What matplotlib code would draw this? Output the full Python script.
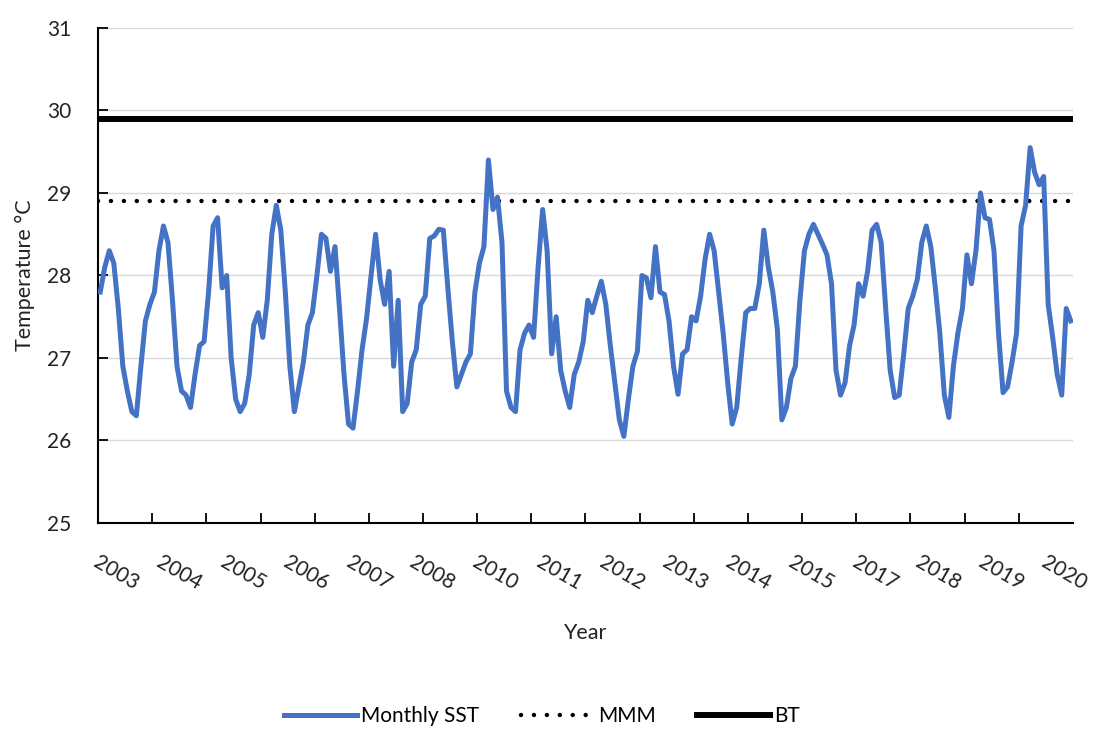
import matplotlib
matplotlib.use("Agg")
import matplotlib.pyplot as plt
from matplotlib.lines import Line2D

plt.rcParams['font.family'] = ['Lato', 'DejaVu Sans']

# monthly sea surface temperature (Jan 2003 - Dec 2020)
sst = [
    27.8, 28.1, 28.3, 28.15, 27.6, 26.9, 26.6, 26.35, 26.3, 26.9, 27.45, 27.65,
    27.8, 28.3, 28.6, 28.4, 27.7, 26.9, 26.6, 26.55, 26.4, 26.8, 27.15, 27.2,
    27.8, 28.6, 28.7, 27.85, 28.0, 27.0, 26.5, 26.35, 26.45, 26.8, 27.4, 27.55,
    27.25, 27.7, 28.5, 28.85, 28.55, 27.8, 26.9, 26.35, 26.65, 26.95, 27.4, 27.55,
    28.0, 28.5, 28.45, 28.05, 28.35, 27.6, 26.8, 26.2, 26.15, 26.6, 27.1, 27.48,
    28.0, 28.5, 27.95, 27.65, 28.05, 26.9, 27.7, 26.35, 26.45, 26.95, 27.1, 27.65,
    27.75, 28.45, 28.48, 28.56, 28.55, 27.85, 27.2, 26.65, 26.8, 26.95, 27.05, 27.8,
    28.15, 28.35, 29.4, 28.8, 28.95, 28.4, 26.6, 26.4, 26.35, 27.1, 27.3, 27.4,
    27.25, 28.1, 28.8, 28.3, 27.05, 27.5, 26.85, 26.6, 26.4, 26.8, 26.95, 27.2,
    27.7, 27.55, 27.75, 27.93, 27.65, 27.15, 26.7, 26.25, 26.05, 26.5, 26.9, 27.08,
    28.0, 27.97, 27.73, 28.35, 27.8, 27.77, 27.45, 26.9, 26.56, 27.05, 27.1, 27.5,
    27.45, 27.75, 28.2, 28.5, 28.3, 27.8, 27.3, 26.7, 26.2, 26.4, 27.0, 27.55,
    27.6, 27.6, 27.9, 28.55, 28.1, 27.8, 27.35, 26.25, 26.4, 26.75, 26.9, 27.7,
    28.3, 28.5, 28.62, 28.5, 28.38, 28.25, 27.9, 26.85, 26.55, 26.7, 27.15, 27.4,
    27.9, 27.75, 28.05, 28.55, 28.62, 28.4, 27.6, 26.85, 26.52, 26.55, 27.05, 27.6,
    27.75, 27.95, 28.4, 28.6, 28.35, 27.85, 27.3, 26.55, 26.28, 26.9, 27.3, 27.6,
    28.25, 27.9, 28.3, 29.0, 28.7, 28.68, 28.3, 27.3, 26.58, 26.65, 26.95, 27.3,
    28.6, 28.85, 29.55, 29.25, 29.1, 29.2, 27.65, 27.25, 26.8, 26.55, 27.6, 27.45,
]
mmm = 28.9
bt = 29.9
# category axis labels, shown every 14th month as in the source chart
year_labels = ['2003', '2004', '2005', '2006', '2007', '2008', '2010', '2011',
               '2012', '2013', '2014', '2015', '2017', '2018', '2019', '2020']

n = len(sst)
months = list(range(n))
label_pos = list(range(0, n, 14))

fig = plt.figure(figsize=(11.04, 7.31), dpi=100)
ax = fig.add_axes([98 / 1104, 1 - 523 / 731, 975 / 1104, 495 / 731])

blue = '#4472C4'
ax.plot(months, sst, color=blue, lw=3.6, solid_joinstyle='round', zorder=3)
ax.plot([-0.5, n - 0.5], [mmm, mmm], color='black', lw=3.2,
        dashes=(0.01, 2.9), dash_capstyle='round', zorder=2)
ax.plot([-0.5, n - 0.5], [bt, bt], color='black', lw=4.3, zorder=2)

ax.set_xlim(-0.5, n - 0.5)
ax.set_ylim(25, 31)
ax.set_yticks(range(25, 32))
ax.yaxis.grid(True, color='#d9d9d9', lw=1)
ax.set_axisbelow(True)

ax.set_xticks(label_pos)
ax.set_xticklabels(year_labels, rotation=-30, ha='left', va='top',
                   rotation_mode='anchor')
ax.set_xticks([k * 12 - 0.5 for k in range(1, n // 12)], minor=True)
ax.tick_params(axis='x', which='major', length=0, pad=21, labelsize=15,
               labelcolor='#222222')
ax.tick_params(axis='x', which='minor', direction='in', length=7, width=1.3)
ax.tick_params(axis='y', direction='in', length=7, width=1.3, pad=19,
               labelsize=15, labelcolor='#222222')

for s in ['top', 'right']:
    ax.spines[s].set_visible(False)
for s in ['left', 'bottom']:
    ax.spines[s].set_linewidth(1.5)

fig.text(585 / 1104, 1 - 633 / 731, 'Year', ha='center', va='center',
         fontsize=15.5, color='#222222')
fig.text(25 / 1104, 1 - 275 / 731, 'Temperature °C', ha='center', va='center',
         rotation=90, fontsize=15.5, color='#222222')

handles = [
    Line2D([], [], color=blue, lw=3.6),
    Line2D([], [], color='black', lw=3.2, dashes=(0.01, 2.9), dash_capstyle='round'),
    Line2D([], [], color='black', lw=4.3),
]
fig.legend(handles, ['Monthly SST', 'MMM', 'BT'], loc='center',
           bbox_to_anchor=(542 / 1104, 1 - 716 / 731), ncol=3, frameon=False,
           fontsize=15, handlelength=3.5, columnspacing=2.0, handletextpad=0.2)

fig.savefig('out.png', dpi=100)
